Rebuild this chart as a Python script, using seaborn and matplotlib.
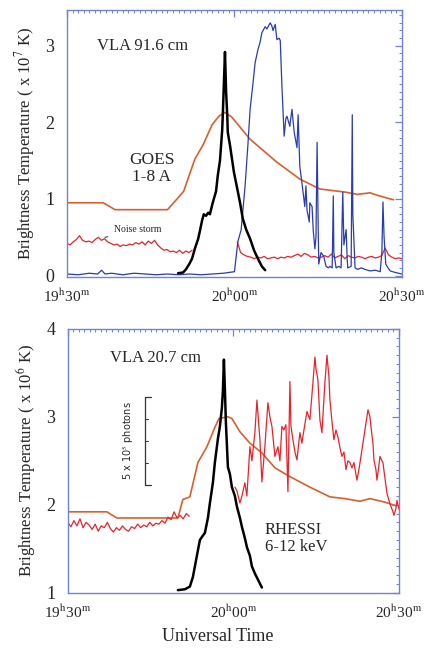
import numpy as np
import seaborn as sns
import matplotlib.pyplot as plt
from matplotlib.ticker import MultipleLocator, FixedLocator

# time axis: minutes after 19h30m UT
time_ticks = [0, 30, 60]
time_labels = [r"19$^{\rm h}$30$^{\rm m}$", r"20$^{\rm h}$00$^{\rm m}$", r"20$^{\rm h}$30$^{\rm m}$"]

# ---- top panel (x 10^7 K) ----
goes_top_t = [0, 6.5, 8.6, 18.0, 20.2, 20.9, 22.9, 24.4, 26.0, 27.2, 28.3, 29.5, 32.8, 37.6,
              41.7, 45.3, 49.8, 52.0, 54.3, 55.5, 57.9, 58.5]
goes_top_v = [0.95, 0.95, 0.86, 0.86, 1.04, 1.10, 1.52, 1.71, 1.97, 2.08, 2.13, 2.07, 1.78, 1.48,
              1.26, 1.13, 1.09, 1.06, 1.08, 1.05, 1.00, 0.99]

noise1_top_v = [0.42, 0.40, 0.44, 0.47, 0.52, 0.46, 0.44, 0.45, 0.43, 0.47, 0.50, 0.46, 0.48, 0.44,
                0.42, 0.40, 0.41, 0.38, 0.40, 0.39, 0.41, 0.40, 0.43, 0.41, 0.44, 0.40, 0.45, 0.42,
                0.46, 0.40, 0.36, 0.33, 0.34, 0.31, 0.32, 0.30, 0.33, 0.29, 0.32, 0.30, 0.33]
noise1_top_span = (0.0, 22.4)
noise2_top_v = [0.44, 0.30, 0.27, 0.25, 0.24, 0.22, 0.24, 0.23, 0.25, 0.22, 0.23, 0.24, 0.22, 0.24,
                0.23, 0.25, 0.24, 0.26, 0.28, 0.25, 0.29, 0.27, 0.24, 0.25, 0.23, 0.24, 0.26, 0.24,
                0.28, 0.23, 0.25, 0.27, 0.22, 0.26, 0.24, 0.23, 0.25, 0.24, 0.22, 0.24, 0.25, 0.23,
                0.24, 0.26, 0.36, 0.27, 0.24, 0.22, 0.23, 0.22]
noise2_top_span = (30.5, 60.0)

vla91_t = [0, 2, 4, 5.5, 6.2, 6.8, 8, 10, 12, 14, 16, 18, 20, 22, 24, 26, 28, 30,
           30.6, 31.2, 31.9, 32.4, 32.8, 33.3, 33.7, 34.2, 34.6, 34.9, 35.5, 35.8, 36.4, 36.7,
           36.9, 37.3, 37.6, 38.0, 38.2, 38.5, 38.9, 39.2, 39.4, 39.8, 39.9, 40.3, 40.7, 41.0,
           41.2, 41.4, 41.7, 42.1, 42.3, 42.6, 42.8, 43.0, 43.4, 43.5, 43.9, 44.1, 44.4, 44.6,
           44.8, 45.0, 45.1, 45.5, 46.0, 46.4, 46.8, 47.1, 47.5, 47.7, 47.8, 48.2, 48.7, 49.1,
           49.4, 49.6, 50.0, 50.2, 50.3, 50.9, 51.1, 51.2, 51.6, 52.1, 52.7, 53.4, 54.3, 55.2,
           56.1, 56.4, 56.6, 56.8, 57.1, 57.5, 57.9, 58.8, 60.0]
vla91_v = [0.02, 0.01, 0.03, 0.02, 0.07, 0.02, 0.03, 0.01, 0.03, 0.02, 0.01, 0.02, 0.01, 0.02,
           0.01, 0.02, 0.03, 0.05,
           0.44, 0.60, 1.17, 1.70, 2.17, 2.50, 2.78, 2.95, 3.05, 3.17, 3.25, 3.22, 3.30, 3.26,
           3.20, 3.28, 3.08, 3.10, 3.07, 2.47, 1.82, 2.05, 2.08, 1.98, 1.95, 2.17, 1.87, 1.75,
           1.67, 2.10, 1.43, 1.20, 1.08, 0.90, 1.17, 0.85, 0.70, 0.95, 0.90, 0.60, 0.35, 0.50,
           1.74, 0.60, 0.15, 0.30, 0.25, 0.12, 0.10, 0.12, 0.10, 1.04, 0.30, 0.10, 0.12, 0.10,
           1.09, 0.40, 0.60, 0.20, 0.10, 0.12, 2.10, 0.80, 0.10, 0.08, 0.10, 0.08, 0.06, 0.07,
           0.05, 0.30, 0.96, 0.50, 0.15, 0.10, 0.06, 0.04, 0.02]

hxr_top_t = [19.9, 20.8, 21.3, 21.9, 22.4, 22.9, 23.5, 23.8, 24.2, 24.5, 24.9, 25.3, 25.6, 26.0,
             26.3, 26.7, 27.0, 27.4, 27.8, 27.9, 28.1, 28.3, 28.5, 28.7, 28.8, 29.2, 29.6, 29.9,
             30.4, 31.0, 31.5, 32.1, 32.8, 33.5, 34.2, 34.9, 35.5]
hxr_top_v = [0.03, 0.04, 0.08, 0.15, 0.22, 0.35, 0.48, 0.58, 0.72, 0.80, 0.78, 0.82, 0.80, 0.92,
             1.00, 1.10, 1.30, 1.50, 1.90, 2.08, 2.50, 2.92, 2.40, 2.10, 1.87, 1.70, 1.50, 1.35,
             1.17, 0.95, 0.74, 0.60, 0.48, 0.33, 0.22, 0.12, 0.07]

# ---- bottom panel (x 10^6 K) ----
goes_bot_t = [0, 7.07, 8.88, 19.94, 20.84, 22.11, 23.56, 25.2, 26.64, 27.37, 29.0, 29.73, 31.18,
              32.99, 35.16, 37.52, 40.24, 43.86, 47.49, 50.21, 52.93, 54.74, 57.46, 58.91, 59.45]
goes_bot_v = [1.92, 1.92, 1.85, 1.85, 2.06, 2.09, 2.48, 2.66, 2.88, 2.98, 3.00, 2.98, 2.83,
              2.70, 2.59, 2.42, 2.32, 2.20, 2.09, 2.07, 2.04, 2.07, 2.03, 2.00, 1.99]

vla20_pre_v = [1.80, 1.75, 1.82, 1.76, 1.84, 1.74, 1.80, 1.77, 1.72, 1.78, 1.70, 1.76, 1.74, 1.80,
               1.73, 1.69, 1.74, 1.71, 1.76, 1.72, 1.70, 1.75, 1.73, 1.78, 1.74, 1.77, 1.75, 1.80,
               1.76, 1.79, 1.78, 1.82, 1.79, 1.86, 1.83, 1.92, 1.85, 1.88, 1.84, 1.90, 1.87]
vla20_pre_span = (0.0, 22.0)

vla20_t = [30.27, 30.63, 31.18, 31.54, 32.08, 32.44, 32.99, 33.35, 33.89, 34.26, 34.8, 35.16,
           35.7, 36.25, 36.61, 36.98, 37.52, 38.06, 38.43, 38.79, 39.15, 39.51, 39.88, 40.24,
           40.42, 40.78, 41.15, 41.51, 42.05, 42.41, 42.78, 43.32, 43.86, 44.41, 44.77, 44.95,
           45.31, 45.68, 46.04, 46.58, 46.95, 47.31, 47.49, 47.85, 48.21, 48.58, 48.94, 49.3,
           49.66, 50.03, 50.39, 50.75, 51.11, 51.48, 51.84, 52.38, 52.74, 53.11, 53.47, 53.83,
           54.38, 54.74, 54.92, 55.28, 55.46, 55.82, 56.01, 56.37, 56.55, 56.91, 57.09, 57.46,
           57.82, 58.18, 58.55, 58.91, 59.09, 59.45, 59.63, 60.0]
vla20_v = [2.20, 2.16, 2.02, 2.10, 2.25, 2.10, 2.66, 2.50, 2.82, 3.19, 2.74, 2.26,
           2.66, 3.16, 3.00, 2.89, 2.55, 2.66, 2.50, 2.89, 2.85, 2.91, 2.15, 3.40,
           2.90, 2.74, 2.60, 2.51, 2.82, 2.70, 2.85, 3.06, 2.97, 3.39, 3.68, 3.55,
           3.42, 2.96, 2.82, 3.39, 3.70, 3.45, 3.19, 2.95, 2.74, 2.85, 2.77, 2.65,
           2.55, 2.60, 2.40, 2.50, 2.48, 2.42, 2.48, 2.28, 2.40, 2.55, 2.70, 2.85,
           3.08, 3.00, 2.89, 2.70, 2.51, 2.40, 2.28, 2.45, 2.55, 2.50, 2.48, 2.30,
           2.13, 2.05, 1.98, 1.92, 1.88, 1.96, 2.05, 1.95]

rhessi_t = [19.94, 21.21, 22.11, 22.66, 23.02, 23.56, 23.93, 24.47, 24.83, 25.38, 25.74, 26.28,
            26.64, 27.19, 27.55, 27.91, 28.1, 28.28, 28.46, 28.64, 29.0, 29.36, 29.73, 30.27,
            30.63, 31.18, 31.54, 32.08, 32.44, 32.99, 33.35, 33.89, 34.44, 35.16]
rhessi_v = [1.03, 1.04, 1.07, 1.18, 1.30, 1.48, 1.60, 1.65, 1.68, 1.85, 2.02, 2.25,
            2.48, 2.75, 2.89, 3.10, 3.30, 3.65, 3.30, 2.93, 2.43, 2.35, 2.20, 2.10,
            1.98, 1.85, 1.75, 1.62, 1.52, 1.42, 1.30, 1.22, 1.15, 1.06]

ORANGE = "#d9602c"
RED = "#e8232b"
BLUE = "#2a3cb0"
FRAME = "#7083d4"

sns.set_style("white")
plt.rcParams["font.family"] = ["Liberation Serif", "DejaVu Serif"]
plt.rcParams["mathtext.fontset"] = "stix"

fig = plt.figure(figsize=(4.24, 6.55), dpi=100)
ax1 = fig.add_axes([0.158, 0.577, 0.790, 0.408])
ax2 = fig.add_axes([0.160, 0.095, 0.781, 0.403])


def line(ax, t, v, color, lw):
    sns.lineplot(x=t, y=v, ax=ax, color=color, lw=lw, sort=False, estimator=None)


def frame(ax, ylim, yticks):
    ax.set_xlim(0, 60)
    ax.set_ylim(*ylim)
    ax.xaxis.set_major_locator(FixedLocator(time_ticks))
    ax.set_xticklabels(time_labels)
    ax.xaxis.set_minor_locator(MultipleLocator(1))
    ax.yaxis.set_major_locator(FixedLocator(yticks))
    ax.yaxis.set_minor_locator(MultipleLocator(0.1))
    for s in ax.spines.values():
        s.set_color(FRAME)
        s.set_linewidth(1.0)
    ax.tick_params(which="both", direction="in", top=True, right=True, color=FRAME)
    ax.tick_params(which="major", length=5, width=0.9)
    ax.tick_params(which="minor", length=2.5, width=0.7)
    ax.tick_params(axis="y", labelsize=13, pad=9)
    ax.tick_params(axis="x", labelsize=11, pad=8)


# top panel
line(ax1, goes_top_t, goes_top_v, ORANGE, 1.2)
line(ax1, np.linspace(*noise1_top_span, len(noise1_top_v)), noise1_top_v, RED, 0.9)
line(ax1, np.linspace(*noise2_top_span, len(noise2_top_v)), noise2_top_v, RED, 0.9)
line(ax1, vla91_t, vla91_v, BLUE, 0.9)
line(ax1, hxr_top_t, hxr_top_v, "black", 1.8)
frame(ax1, (-0.02, 3.47), [0, 1, 2, 3])
ax1.set_xlabel("")
ax1.set_ylabel(r"Brightness Temperature ( x 10$^7$ K)", fontsize=12, labelpad=6)

ax1.text(5.4, 3.0, "VLA 91.6 cm", fontsize=12, va="center")
ax1.text(15.2, 1.4, "GOES\n1-8 A", fontsize=12.5, ha="center", va="center", linespacing=1.1)
ax1.annotate("Noise storm", xy=(6.3, 0.49), xytext=(8.4, 0.6), fontsize=7, va="center",
             arrowprops=dict(arrowstyle="-", color="#333333", lw=0.7))

# bottom panel
line(ax2, goes_bot_t, goes_bot_v, ORANGE, 1.2)
line(ax2, np.linspace(*vla20_pre_span, len(vla20_pre_v)), vla20_pre_v, RED, 0.9)
line(ax2, vla20_t, vla20_v, RED, 0.9)
line(ax2, rhessi_t, rhessi_v, "black", 1.8)
frame(ax2, (1, 4), [1, 2, 3, 4])
ax2.set_ylabel(r"Brightness Temperature ( x 10$^6$ K)", fontsize=12, labelpad=6)
ax2.set_xlabel("Universal Time", fontsize=13)
ax2.xaxis.set_label_coords(0.453, -0.135)

ax2.text(7.6, 3.67, "VLA 20.7 cm", fontsize=12, va="center")
ax2.text(35.7, 1.62, "RHESSI\n6-12 keV", fontsize=12, va="center", linespacing=1.1)

# photon scale bar
tr = ax2.transAxes
xb, y0, y1 = 0.233, 0.409, 0.742
ax2.plot([xb, xb], [y0, y1], color="#333333", lw=0.9, transform=tr)
for yy in (y0, y1):
    ax2.plot([xb, xb + 0.018], [yy, yy], color="#333333", lw=0.9, transform=tr)
for k in (1, 2, 3):
    yy = y0 + k * (y1 - y0) / 4
    ax2.plot([xb, xb + 0.008], [yy, yy], color="#333333", lw=0.7, transform=tr)
ax2.text(0.181, (y0 + y1) / 2, r"5 x 10$^5$ photons", rotation=90, fontsize=7,
         ha="center", va="center", transform=tr, family=["DejaVu Sans"])

fig.savefig("out.png", dpi=100)
